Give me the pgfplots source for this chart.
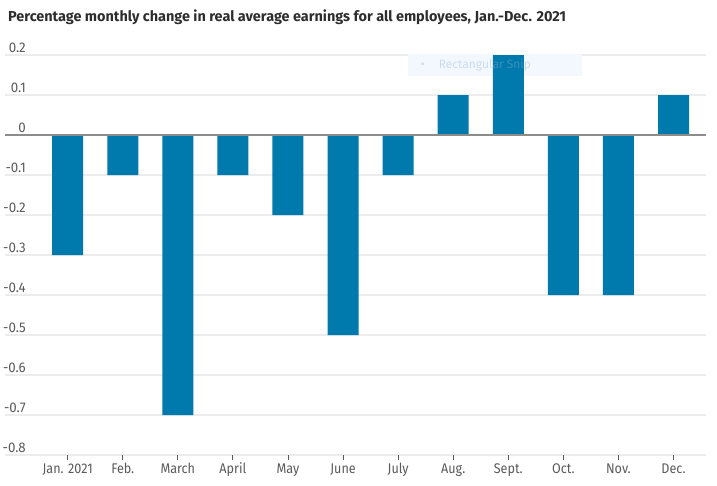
\documentclass[border=0pt]{standalone}
\usepackage{pgfplots}
\pgfplotsset{compat=1.18}
\usepackage{fontspec}
\setmainfont{Fira Sans}
\newfontfamily\xtickfont[FakeStretch=0.9]{Fira Sans}
\newfontfamily\ytickfont[FakeStretch=0.95]{Fira Sans}
\definecolor{barblue}{RGB}{0,121,173}
\definecolor{gridgray}{RGB}{236,236,236}
\definecolor{zerogray}{RGB}{140,140,140}
\definecolor{labgray}{RGB}{90,90,90}
\definecolor{titlegray}{RGB}{45,45,45}
\definecolor{snipfill}{RGB}{242,248,254}
\definecolor{sniptext}{RGB}{150,175,205}
\begin{document}
\begin{tikzpicture}[x=1pt,y=1pt]
\useasboundingbox (0,0) rectangle (717,485);
\node[anchor=west, inner sep=0pt, text=titlegray, font=\fontsize{14.45}{16}\selectfont\bfseries] at (8,468) {Percentage monthly change in real average earnings for all employees, Jan.-Dec. 2021};
\begin{axis}[
  at={(5pt,30pt)}, anchor=south west,
  width=701pt, height=400pt, scale only axis,
  xmin=-1.138, xmax=11.59,
  ymin=-0.8, ymax=0.2,
  axis line style={draw=none},
  xtick={0,...,11},
  xticklabels={Jan. 2021,Feb.,March,April,May,June,July,Aug.,Sept.,Oct.,Nov.,Dec.},
  xtick pos=bottom,
  tick align=outside,
  major tick length=4.5pt,
  xtick style={draw=labgray, line width=0.9pt},
  xticklabel style={text=labgray, font=\xtickfont\fontsize{14}{14}\selectfont, anchor=base, yshift=-14pt},
  ytick={-0.8,-0.7,-0.6,-0.5,-0.4,-0.3,-0.2,-0.1,0,0.1,0.2},
  yticklabels={-0.8,-0.7,-0.6,-0.5,-0.4,-0.3,-0.2,-0.1,0,0.1,0.2},
  ytick style={draw=none},
  yticklabel style={text=labgray, font=\ytickfont\fontsize{14}{14}\selectfont, anchor=base east, inner sep=0pt, xshift=25.5pt, yshift=2.5pt},
  ymajorgrids,
  grid style={gridgray, line width=1.5pt},
  ybar, bar width=31pt,
  clip=false,
]
\fill[snipfill] (axis cs:6.18,0.2025) rectangle (axis cs:9.34,0.148);
\addplot[fill=barblue, draw=none] coordinates {
(0,-0.3) (1,-0.1) (2,-0.7) (3,-0.1) (4,-0.2) (5,-0.5)
(6,-0.1) (7,0.1) (8,0.2) (9,-0.4) (10,-0.4) (11,0.1)};
\node[anchor=west, inner sep=0pt, text=sniptext, text opacity=0.4, font=\fontsize{12}{12}\selectfont] at (axis cs:6.41,0.176) {\textbullet\hspace{14pt}Rectangular Snip};
\draw[zerogray, line width=1.5pt] (axis cs:-1.138,0) -- (axis cs:11.59,0);
\end{axis}
\end{tikzpicture}
\end{document}
